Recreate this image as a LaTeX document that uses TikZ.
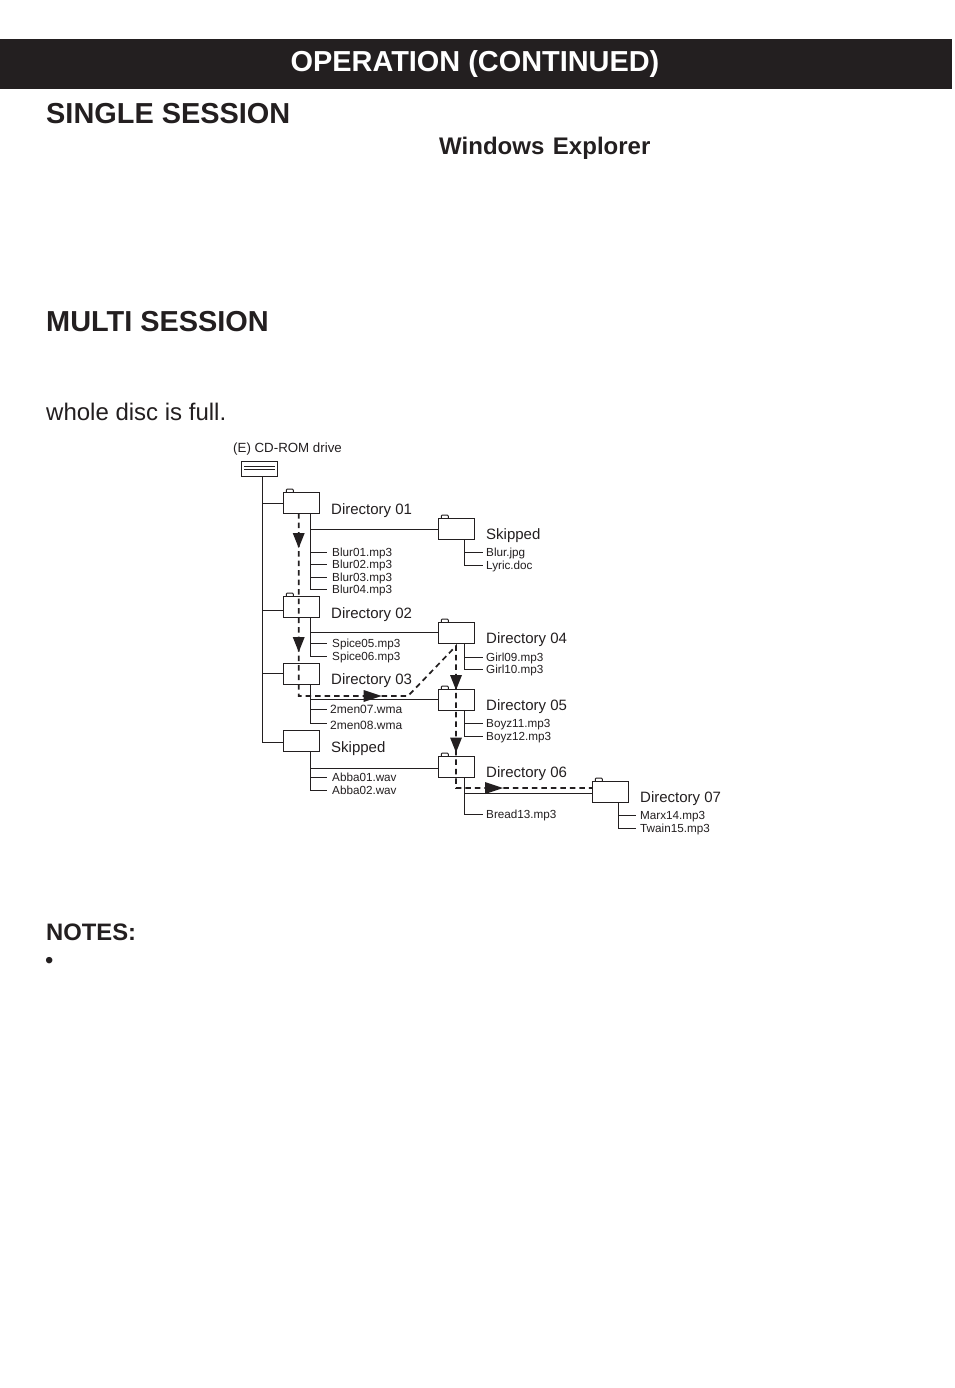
\documentclass[tikz,border=0pt]{standalone}
\usepackage{fontspec}
\setmainfont{Liberation Sans}
\usetikzlibrary{calc}
\definecolor{ink}{HTML}{231F20}
\newcommand{\sz}[1]{\fontsize{#1}{#1}\selectfont}
\newcommand{\tabon}[1]{\draw[tree,rounded corners=1pt] ($(#1.north west)+(3,0)$) -- ++(0,-3) -- ++(7,0) -- ++(0,3);}
\newcommand{\headdown}[2]{\fill[ink] (#1) ++(-6,#2) -- ++(12,0) -- ++(-6,15) -- cycle;}
\newcommand{\headright}[2]{\fill[ink] (#1) ++(#2,-6) -- ++(0,12) -- ++(18,-6) -- cycle;}
\tikzset{
  x=1pt,y=-1pt,
  tree/.style={draw=ink,line width=1pt,line cap=butt},
  box/.style={draw=ink,line width=1pt,minimum width=36.5pt,minimum height=21pt,inner sep=0pt,outer sep=0pt},
  heading/.style={anchor=base west,inner sep=0pt,text=ink,font=\bfseries\sz{28.9}},
  dirlabel/.style={anchor=base west,inner sep=0pt,text=ink,font=\sz{15}},
  filelabel/.style={anchor=west,inner ysep=0pt,inner xsep=5pt,text height=8pt,text depth=0pt,text=ink,font=\sz{11.7}},
  bigfile/.style={filelabel,inner xsep=3pt,font=\sz{12}},
  route/.style={draw=ink,line width=1.7pt,dash pattern=on 5.5pt off 4pt},
}
\begin{document}
\begin{tikzpicture}
\useasboundingbox (0,0) rectangle (954,1388);
\fill[white] (0,0) rectangle (954,1388);
\fill[ink] (0,39) rectangle (952,89);
\node[anchor=base,inner sep=0pt,text=white,font=\bfseries\sz{28.9}] (title) at (475,71.7) {OPERATION (CONTINUED)};
\node[heading] (single) at (46,123.7) {SINGLE SESSION};
\node[anchor=base west,inner sep=0pt,text=ink,font=\bfseries\sz{24}] (winexp) at (439,155) {Windows\hspace{2pt} Explorer};
\node[heading] (multi) at (46,331) {MULTI SESSION};
\node[anchor=base west,inner sep=0pt,text=ink,font=\sz{24}] (whole) at (46,420) {whole disc is full.};
\node[anchor=base west,inner sep=0pt,text=ink,font=\bfseries\sz{23.8}] (notes) at (46,940) {NOTES:};
\node[anchor=base west,inner sep=0pt,text=ink,font=\sz{23.8}] (bullet) at (45,968) {•};

% drive
\node[anchor=base west,inner sep=0pt,text=ink,font=\sz{13.3}] (drivelabel) at (233,452) {(E) CD-ROM drive};
\node[box,minimum height=15pt] (drive) at (259.5,468.5) {};
\draw[tree] ($(drive.west)+(3,-2)$) -- ($(drive.east)+(-3,-2)$);
\draw[tree] ($(drive.west)+(3,1)$) -- ($(drive.east)+(-3,1)$);

% folders
\node[box] (d01) at (301.5,502.5) {};
\node[box] (d02) at (301.5,606.5) {};
\node[box] (d03) at (301.5,673.5) {};
\node[box] (sk2) at (301.5,740.5) {};
\node[box] (sk1) at (456.5,528.5) {};
\node[box] (d04) at (456.5,632.5) {};
\node[box] (d05) at (456.5,699.5) {};
\node[box] (d06) at (456.5,766.5) {};
\node[box] (d07) at (610.5,791.5) {};
\tabon{d01}\tabon{d02}\tabon{sk1}\tabon{d04}\tabon{d05}\tabon{d06}\tabon{d07}

% folder labels
\node[dirlabel] (l01) at (331,514) {Directory 01};
\node[dirlabel] (l02) at (331,618) {Directory 02};
\node[dirlabel] (l03) at (331,684.5) {Directory 03};
\node[dirlabel] (ls2) at (331,752) {Skipped};
\node[dirlabel] (ls1) at (486,539.5) {Skipped};
\node[dirlabel] (l04) at (486,643.5) {Directory 04};
\node[dirlabel] (l05) at (486,710.5) {Directory 05};
\node[dirlabel] (l06) at (486,777.5) {Directory 06};
\node[dirlabel] (l07) at (640,802.5) {Directory 07};

% spine
\coordinate (spine) at ($(drive.south)+(3,0)$);
\draw[tree] (spine) |- ($(d01.west)+(0,0.5)$);
\draw[tree] (spine) |- ($(d02.west)+(0,3.5)$);
\draw[tree] (spine) |- (d03.west);
\draw[tree] (spine) |- ($(sk2.west)+(0,1.5)$);

% subtree anchors
\coordinate (t01) at ($(d01.south)+(8.7,0)$);
\coordinate (t02) at ($(d02.south)+(8.7,0)$);
\coordinate (t03) at ($(d03.south)+(8.7,0)$);
\coordinate (tk2) at ($(sk2.south)+(8.7,0)$);
\coordinate (tk1) at ($(sk1.south)+(7.5,0)$);
\coordinate (t04) at ($(d04.south)+(7.5,0)$);
\coordinate (t05) at ($(d05.south)+(7.5,0)$);
\coordinate (t06) at ($(d06.south)+(7.5,0)$);
\coordinate (t07) at ($(d07.south)+(7.5,0)$);

% files
\node[filelabel] (f1) at (327,552.5) {Blur01.mp3};
\node[filelabel] (f2) at (327,564.5) {Blur02.mp3};
\node[filelabel] (f3) at (327,577) {Blur03.mp3};
\node[filelabel] (f4) at (327,589) {Blur04.mp3};
\node[filelabel] (f5) at (327,643) {Spice05.mp3};
\node[filelabel] (f6) at (327,656) {Spice06.mp3};
\node[bigfile] (f7) at (327,709.5) {2men07.wma};
\node[bigfile] (f8) at (327,725) {2men08.wma};
\node[filelabel] (a1) at (327,777) {Abba01.wav};
\node[filelabel] (a2) at (327,790) {Abba02.wav};
\node[filelabel,inner xsep=3pt] (j1) at (483,552.5) {Blur.jpg};
\node[filelabel,inner xsep=3pt] (j2) at (483,565) {Lyric.doc};
\node[filelabel,inner xsep=3pt] (g1) at (483,657) {Girl09.mp3};
\node[filelabel,inner xsep=3pt] (g2) at (483,669.5) {Girl10.mp3};
\node[filelabel,inner xsep=3pt] (b1) at (483,723.5) {Boyz11.mp3};
\node[filelabel,inner xsep=3pt] (b2) at (483,736) {Boyz12.mp3};
\node[filelabel,inner xsep=3pt] (b3) at (483,814) {Bread13.mp3};
\node[filelabel,inner xsep=4pt] (m1) at (636,815) {Marx14.mp3};
\node[filelabel,inner xsep=4pt] (m2) at (636,828) {Twain15.mp3};

% tree connectors
\foreach \t/\f in {t01/f1,t01/f2,t01/f3,t01/f4,t02/f5,t02/f6,t03/f7,tk2/a1,tk2/a2,tk1/j1,tk1/j2,t04/g1,t04/g2,t05/b1,t05/b2,t06/b3,t07/m1,t07/m2}
  \draw[tree] (\t) |- (\f.west);
\draw[tree] (t03) |- ($(f8.west)+(0,-2)$);
\draw[tree] (t01) |- ($(sk1.west)+(0,0.5)$);
\draw[tree] (t02) |- (d04.west);
\draw[tree] (t03) |- (d05.west);
\draw[tree] (tk2) |- ($(d06.west)+(0,1.5)$);
\draw[tree] (t06) |- ($(d07.west)+(0,1.5)$);

% playback route
\coordinate (r0) at ($(d01.south)+(-2.8,0)$);
\coordinate (r1) at ($(d03.south)+(-2.8,12)$);
\coordinate (r2) at (408,696);
\coordinate (r3) at ($(d04.south)+(-0.5,3)$);
\coordinate (r4) at ($(d06.south)+(-0.5,11)$);
\draw[route] (r0) -- (r1) -- (r2) -- (r3) -- (r4) -- (d07.west |- r4);
\headdown{r0}{20}
\headdown{r0}{124}
\headright{r1}{65}
\headdown{r3}{29}
\headdown{r3}{91.5}
\headright{r4}{29}
\end{tikzpicture}
\end{document}
